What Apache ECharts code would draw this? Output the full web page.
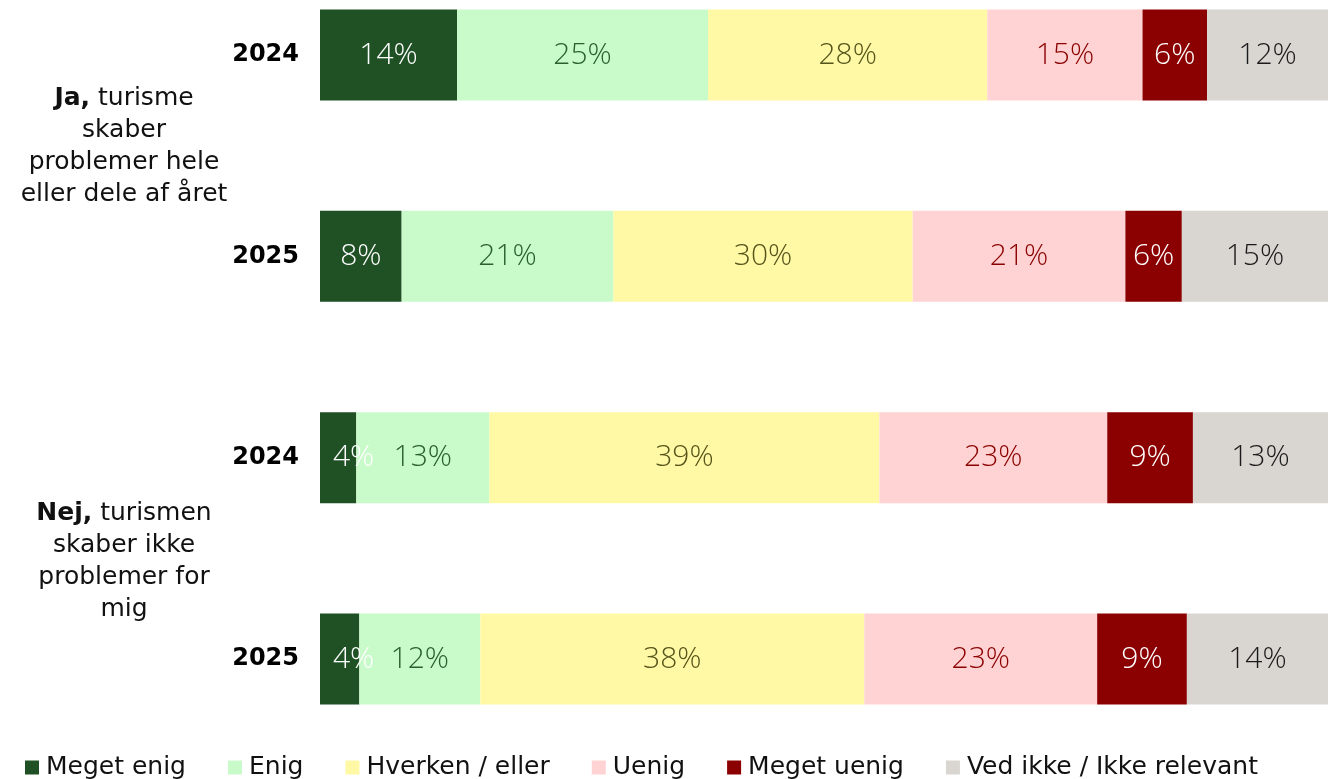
<!DOCTYPE html>
<html>
<head>
<meta charset="utf-8">
<script src="https://cdn.jsdelivr.net/npm/echarts@6/dist/echarts.min.js"></script>
<style>
  html, body { margin: 0; padding: 0; background: #fff; }
  #chart { width: 1338px; height: 779px; }
</style>
</head>
<body>
<div id="chart"></div>
<script>
// Survey answers, share of respondents (%), top to bottom
const years = ['2024', '2025', '2024', '2025'];
const groups = [
  { bold: 'Ja,', rest: ' turisme\nskaber\nproblemer hele\neller dele af året', rows: [0, 1], dy: -9 },
  { bold: 'Nej,', rest: ' turismen\nskaber ikke\nproblemer for\nmig', rows: [2, 3], dy: 3 }
];
const answerNames = ['Meget enig', 'Enig', 'Hverken / eller', 'Uenig', 'Meget uenig', 'Ved ikke / Ikke relevant'];
const megetEnig  = [13.6, 8.1, 3.6, 3.9];
const enig       = [24.9, 21.0, 13.2, 12.0];
const hverken    = [27.7, 29.7, 38.7, 38.1];
const uenig      = [15.4, 21.1, 22.6, 23.1];
const megetUenig = [6.4, 5.6, 8.5, 8.9];
const vedIkke    = [12.0, 14.5, 13.4, 14.0];

const seriesValues = [megetEnig, enig, hverken, uenig, megetUenig, vedIkke];
const fillColors  = ['#1F5125', '#C9FAC9', '#FFF9A6', '#FFD3D3', '#8B0000', '#D9D6D1'];
const labelColors = ['#FFFFFF', '#2A6030', '#55541A', '#8B0000', '#FFFFFF', '#1A1A1A'];

const TEXT_FONT = '"DejaVu Sans", sans-serif';
const LABEL_FONT = '"Open Sans", "Noto Sans", sans-serif';
const chart = echarts.init(document.getElementById('chart'));

// Narrow segments get their label anchored near the left edge so it spills to the right
const toItems = values => values.map(v => v < 5
  ? { value: v, label: { position: 'insideLeft', distance: 13 } }
  : v);

chart.setOption({
  animation: false,
  textStyle: { fontFamily: TEXT_FONT },
  // rows sit on the category ticks (boundaryGap off): first row at the grid top, last at its bottom
  grid: { left: 320, right: 10, top: 55, bottom: 120, containLabel: false },
  xAxis: { type: 'value', min: 0, max: 100, show: false },
  yAxis: {
    type: 'category',
    data: years,
    inverse: true,
    boundaryGap: false,
    axisLine: { show: false },
    axisTick: { show: false },
    splitLine: { show: false },
    axisLabel: { margin: 21, fontSize: 24, fontWeight: 'bold', color: '#000', fontFamily: TEXT_FONT }
  },
  legend: {
    left: 20, top: 750,
    itemWidth: 14, itemHeight: 14, itemGap: 42,
    icon: 'rect',
    textStyle: { fontSize: 25, color: '#111', fontFamily: TEXT_FONT, padding: [0, 0, 0, 2] },
    data: answerNames
  },
  series: answerNames.map((name, i) => ({
    name,
    type: 'bar',
    stack: 'all',
    barWidth: 91,
    clip: false,
    data: toItems(seriesValues[i]),
    itemStyle: { color: fillColors[i] },
    label: {
      show: true,
      position: 'inside',
      fontSize: 30,
      fontWeight: 300,
      color: labelColors[i],
      fontFamily: LABEL_FONT,
      formatter: p => Math.round(p.value) + '%'
    }
  }))
});

// Group captions, centred vertically between their two rows
const groupGraphics = groups.map(g => {
  const yTop = chart.convertToPixel({ yAxisIndex: 0 }, g.rows[0]);
  const yBot = chart.convertToPixel({ yAxisIndex: 0 }, g.rows[1]);
  return {
    type: 'text',
    x: 124,
    y: (yTop + yBot) / 2 + g.dy,
    style: {
      text: '{b|' + g.bold + '}' + g.rest.split('\n').map(s => '{n|' + s + '}').join('\n'),
      align: 'center',
      verticalAlign: 'middle',
      fontFamily: TEXT_FONT,
      rich: {
        b: { fontSize: 25, fontWeight: 'bold', fill: '#111', lineHeight: 32, fontFamily: TEXT_FONT },
        n: { fontSize: 25, fill: '#111', lineHeight: 32, fontFamily: TEXT_FONT }
      }
    }
  };
});
chart.setOption({ graphic: groupGraphics });
</script>
</body>
</html>
